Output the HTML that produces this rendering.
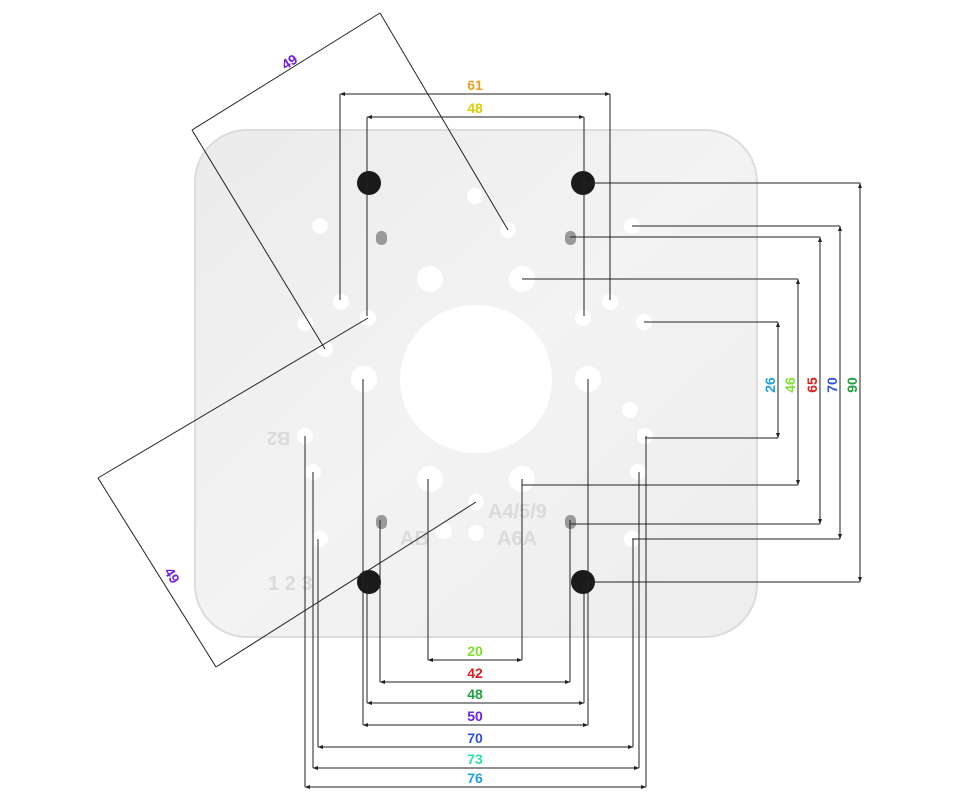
<!DOCTYPE html>
<html><head><meta charset="utf-8"><style>
html,body{margin:0;padding:0;background:#fff;}
svg{display:block;font-family:"Liberation Sans",sans-serif;font-weight:bold;}
</style></head><body>
<svg width="960" height="800" viewBox="0 0 960 800" xmlns="http://www.w3.org/2000/svg">
<defs>
<marker id="a" viewBox="0 0 8 6" refX="7.5" refY="3" markerWidth="6" markerHeight="4" orient="auto-start-reverse"><path d="M0,0L8,3L0,6z" fill="#222"/></marker>
<linearGradient id="g" x1="0" y1="0" x2="1" y2="1"><stop offset="0" stop-color="#ebebeb"/><stop offset="0.5" stop-color="#f3f3f3"/><stop offset="1" stop-color="#ededed"/></linearGradient>
</defs>
<rect x="195" y="130" width="562" height="507" rx="52" fill="url(#g)" stroke="#dcdcdc" stroke-width="2"/>
<ellipse cx="476" cy="379" rx="76" ry="74" fill="#fff"/>
<g fill="#fff">
<circle cx="430" cy="279" r="13"/><circle cx="522" cy="279" r="13"/>
<circle cx="430" cy="479" r="13"/><circle cx="522" cy="479" r="13"/>
<circle cx="364" cy="379" r="13"/><circle cx="588" cy="379" r="13"/>
<circle cx="475" cy="196" r="8"/><circle cx="508" cy="230" r="8"/>
<circle cx="320" cy="226" r="8"/><circle cx="632" cy="226" r="8"/>
<circle cx="341" cy="302" r="8"/><circle cx="368" cy="318" r="8"/><circle cx="305" cy="323" r="8"/><circle cx="325" cy="349" r="8"/>
<circle cx="583" cy="318" r="8"/><circle cx="610" cy="302" r="8"/><circle cx="644" cy="322" r="8"/>
<circle cx="630" cy="410" r="8"/><circle cx="645" cy="436" r="8"/>
<circle cx="305" cy="436" r="8"/><circle cx="313" cy="472" r="8"/><circle cx="638" cy="472" r="8"/>
<circle cx="476" cy="502" r="8"/><circle cx="444" cy="531" r="8"/><circle cx="476" cy="533" r="8"/>
<circle cx="320" cy="539" r="8"/><circle cx="632" cy="539" r="8"/>
</g>
<g fill="#999"><rect x="376" y="231" width="11" height="14" rx="5"/><rect x="565" y="231" width="11" height="14" rx="5"/><rect x="376" y="515" width="11" height="14" rx="5"/><rect x="565" y="515" width="11" height="14" rx="5"/></g>
<g fill="#1a1a1a"><circle cx="369" cy="183" r="12"/><circle cx="583" cy="183" r="12"/><circle cx="369" cy="582" r="12"/><circle cx="583" cy="582" r="12"/></g>
<g fill="#dadada" font-size="18">
<text x="250" y="448" transform="rotate(180 270 440)">B2</text>
<text x="400" y="545" font-size="20">AB</text>
<text x="497" y="545" font-size="20">A6A</text>
<text x="488" y="518" font-size="20">A4/5/9</text>
<text x="268" y="590" font-size="20">1 2 3</text>
</g>
<g stroke="#222" stroke-width="1" fill="none">
<line x1="340" y1="94" x2="610" y2="94" marker-start="url(#a)" marker-end="url(#a)"/>
<line x1="340" y1="94" x2="340" y2="300"/><line x1="610" y1="94" x2="610" y2="300"/>
<line x1="367" y1="117" x2="584" y2="117" marker-start="url(#a)" marker-end="url(#a)"/>
<line x1="367" y1="117" x2="367" y2="316"/><line x1="584" y1="117" x2="584" y2="316"/>
<line x1="860" y1="183" x2="860" y2="582" marker-start="url(#a)" marker-end="url(#a)"/>
<line x1="583" y1="183" x2="860" y2="183"/><line x1="583" y1="582" x2="860" y2="582"/>
<line x1="840" y1="226" x2="840" y2="539" marker-start="url(#a)" marker-end="url(#a)"/>
<line x1="632" y1="226" x2="840" y2="226"/><line x1="632" y1="539" x2="840" y2="539"/>
<line x1="820" y1="237" x2="820" y2="524" marker-start="url(#a)" marker-end="url(#a)"/>
<line x1="570" y1="237" x2="820" y2="237"/><line x1="570" y1="524" x2="820" y2="524"/>
<line x1="798" y1="279" x2="798" y2="485" marker-start="url(#a)" marker-end="url(#a)"/>
<line x1="522" y1="279" x2="798" y2="279"/><line x1="522" y1="485" x2="798" y2="485"/>
<line x1="778" y1="322" x2="778" y2="438" marker-start="url(#a)" marker-end="url(#a)"/>
<line x1="644" y1="322" x2="778" y2="322"/><line x1="645" y1="438" x2="778" y2="438"/>
<line x1="428" y1="660" x2="522" y2="660" marker-start="url(#a)" marker-end="url(#a)"/>
<line x1="428" y1="479" x2="428" y2="660"/><line x1="522" y1="479" x2="522" y2="660"/>
<line x1="380" y1="682" x2="570" y2="682" marker-start="url(#a)" marker-end="url(#a)"/>
<line x1="380" y1="520" x2="380" y2="682"/><line x1="570" y1="520" x2="570" y2="682"/>
<line x1="367" y1="703" x2="584" y2="703" marker-start="url(#a)" marker-end="url(#a)"/>
<line x1="367" y1="582" x2="367" y2="703"/><line x1="584" y1="582" x2="584" y2="703"/>
<line x1="363" y1="725" x2="588" y2="725" marker-start="url(#a)" marker-end="url(#a)"/>
<line x1="363" y1="379" x2="363" y2="725"/><line x1="588" y1="379" x2="588" y2="725"/>
<line x1="318" y1="747" x2="633" y2="747" marker-start="url(#a)" marker-end="url(#a)"/>
<line x1="318" y1="539" x2="318" y2="747"/><line x1="633" y1="539" x2="633" y2="747"/>
<line x1="313" y1="768" x2="639" y2="768" marker-start="url(#a)" marker-end="url(#a)"/>
<line x1="313" y1="472" x2="313" y2="768"/><line x1="639" y1="472" x2="639" y2="768"/>
<line x1="305" y1="787" x2="646" y2="787" marker-start="url(#a)" marker-end="url(#a)"/>
<line x1="305" y1="436" x2="305" y2="787"/><line x1="646" y1="436" x2="646" y2="787"/>
<line x1="380" y1="13" x2="192" y2="130"/>
<line x1="380" y1="13" x2="508" y2="230"/><line x1="192" y1="130" x2="325" y2="349"/>
<line x1="98" y1="478" x2="216" y2="667"/>
<line x1="98" y1="478" x2="368" y2="318"/><line x1="216" y1="667" x2="476" y2="502"/>
</g>
<g font-size="14" text-anchor="middle">
<text x="475" y="90" fill="#f0a020">61</text>
<text x="475" y="113" fill="#e0cc00">48</text>
<text x="475" y="656" fill="#80e030">20</text>
<text x="475" y="678" fill="#e02020">42</text>
<text x="475" y="699" fill="#20a040">48</text>
<text x="475" y="721" fill="#7020e0">50</text>
<text x="475" y="743" fill="#3050e0">70</text>
<text x="475" y="764" fill="#30e0a0">73</text>
<text x="475" y="783" fill="#20a0e0">76</text>
<text transform="translate(775,385) rotate(-90)" fill="#20a0e0">26</text>
<text transform="translate(795,385) rotate(-90)" fill="#80e030">46</text>
<text transform="translate(817,385) rotate(-90)" fill="#e02020">65</text>
<text transform="translate(837,385) rotate(-90)" fill="#3050e0">70</text>
<text transform="translate(857,385) rotate(-90)" fill="#20a040">90</text>
<text transform="translate(292,66) rotate(-32)" fill="#7020e0">49</text>
<text transform="translate(168,578) rotate(58)" fill="#7020e0">49</text>
</g>
</svg>
</body></html>
